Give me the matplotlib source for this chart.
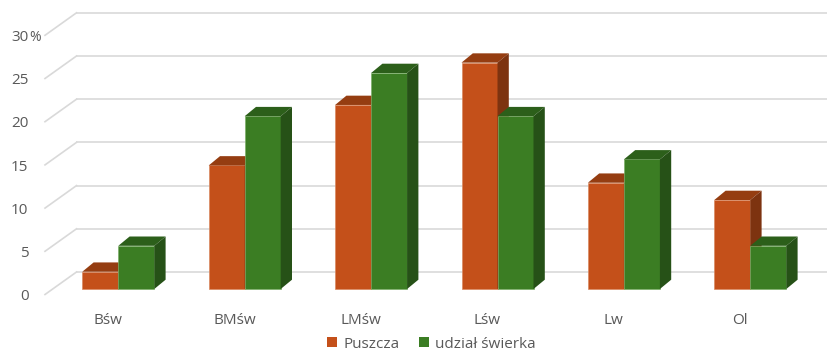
import matplotlib
matplotlib.use("Agg")
import matplotlib.pyplot as plt
from matplotlib.patches import Polygon, Patch

categories = ["Bśw", "BMśw", "LMśw", "Lśw", "Lw", "Ol"]
puszcza = [2.0, 14.3, 21.3, 26.2, 12.3, 10.3]
swierk = [5.0, 20.0, 25.0, 20.0, 15.0, 5.0]
series_names = ["Puszcza", "udział świerka"]
yticks = [0, 5, 10, 15, 20, 25, 30]

plt.rcParams['font.family'] = ['Open Sans', 'DejaVu Sans']

W, H = 827, 352
fig = plt.figure(figsize=(W / 100, H / 100), dpi=100)
ax = fig.add_axes([0, 0, 1, 1])
ax.set_axis_off()

# pixel geometry (derived scale)
px_unit_y = 8.64
px_unit_x = 126.4
x0_px, base_px = 118.3, 289.0
ax.set_xlim(-x0_px / px_unit_x, (W - x0_px) / px_unit_x)
ax.set_ylim(-(H - base_px) / px_unit_y, base_px / px_unit_y)

bw = 36 / px_unit_x          # bar width
ddx = 11.3 / px_unit_x       # bar depth offset
ddy = 9.3 / px_unit_y
wall_dy = 17 / px_unit_y     # back wall offset
wall_x = (76.5 - x0_px) / px_unit_x
floor_x = (45 - x0_px) / px_unit_x
floor_dy = -5.5 / px_unit_y
right_x = (W - x0_px) / px_unit_x

fs = 11
txt_c = "#595959"
grid_c = "#D9D9D9"
for v in yticks:
    ax.plot([wall_x, right_x], [v + wall_dy, v + wall_dy], color=grid_c, lw=1.2, zorder=0,
            solid_capstyle='butt')
    ax.plot([floor_x, wall_x], [v + floor_dy, v + wall_dy], color=grid_c, lw=1.2, zorder=0)
    ax.text((28.5 - x0_px) / px_unit_x, v + floor_dy - 0.25, str(v), ha='right', va='center',
            fontsize=fs, color=txt_c)
ax.text((29.5 - x0_px) / px_unit_x, 30 + floor_dy - 0.25, "%", ha='left', va='center',
        fontsize=fs - 1, color=txt_c)

colors = [("#C4501A", "#953D11", "#7D3310", "#D98A62"),
          ("#3B7D23", "#2C5F1A", "#265117", "#7DAF6A")]

def draw_bar(x_left, h, cols, z):
    front, top, side, edge = cols
    ax.bar(x_left, h, width=bw, align='edge', color=front, edgecolor=edge,
           linewidth=0.5, zorder=z)
    ax.add_patch(Polygon([(x_left, h), (x_left + bw, h), (x_left + bw + ddx, h + ddy), (x_left + ddx, h + ddy)],
                         closed=True, facecolor=top, edgecolor='none', zorder=z))
    ax.add_patch(Polygon([(x_left + bw, 0), (x_left + bw + ddx, ddy), (x_left + bw + ddx, h + ddy), (x_left + bw, h)],
                         closed=True, facecolor=side, edgecolor='none', zorder=z))

for i, cat in enumerate(categories):
    draw_bar(i - bw, puszcza[i], colors[0], 2 + 2 * i)
    draw_bar(i, swierk[i], colors[1], 3 + 2 * i)
    ax.text(i - 10 / px_unit_x, (base_px - 320) / px_unit_y, cat, ha='center', va='center',
            fontsize=fs, color=txt_c)

handles = [Patch(facecolor=colors[0][0]), Patch(facecolor=colors[1][0])]
fig.legend(handles, series_names, loc='center', bbox_to_anchor=(0.522, 0.022), ncol=2,
           frameon=False, fontsize=fs, handlelength=0.65, handleheight=0.65, handletextpad=0.4,
           columnspacing=1.3, labelcolor=txt_c, borderpad=0)

fig.savefig("out.png", dpi=100)
